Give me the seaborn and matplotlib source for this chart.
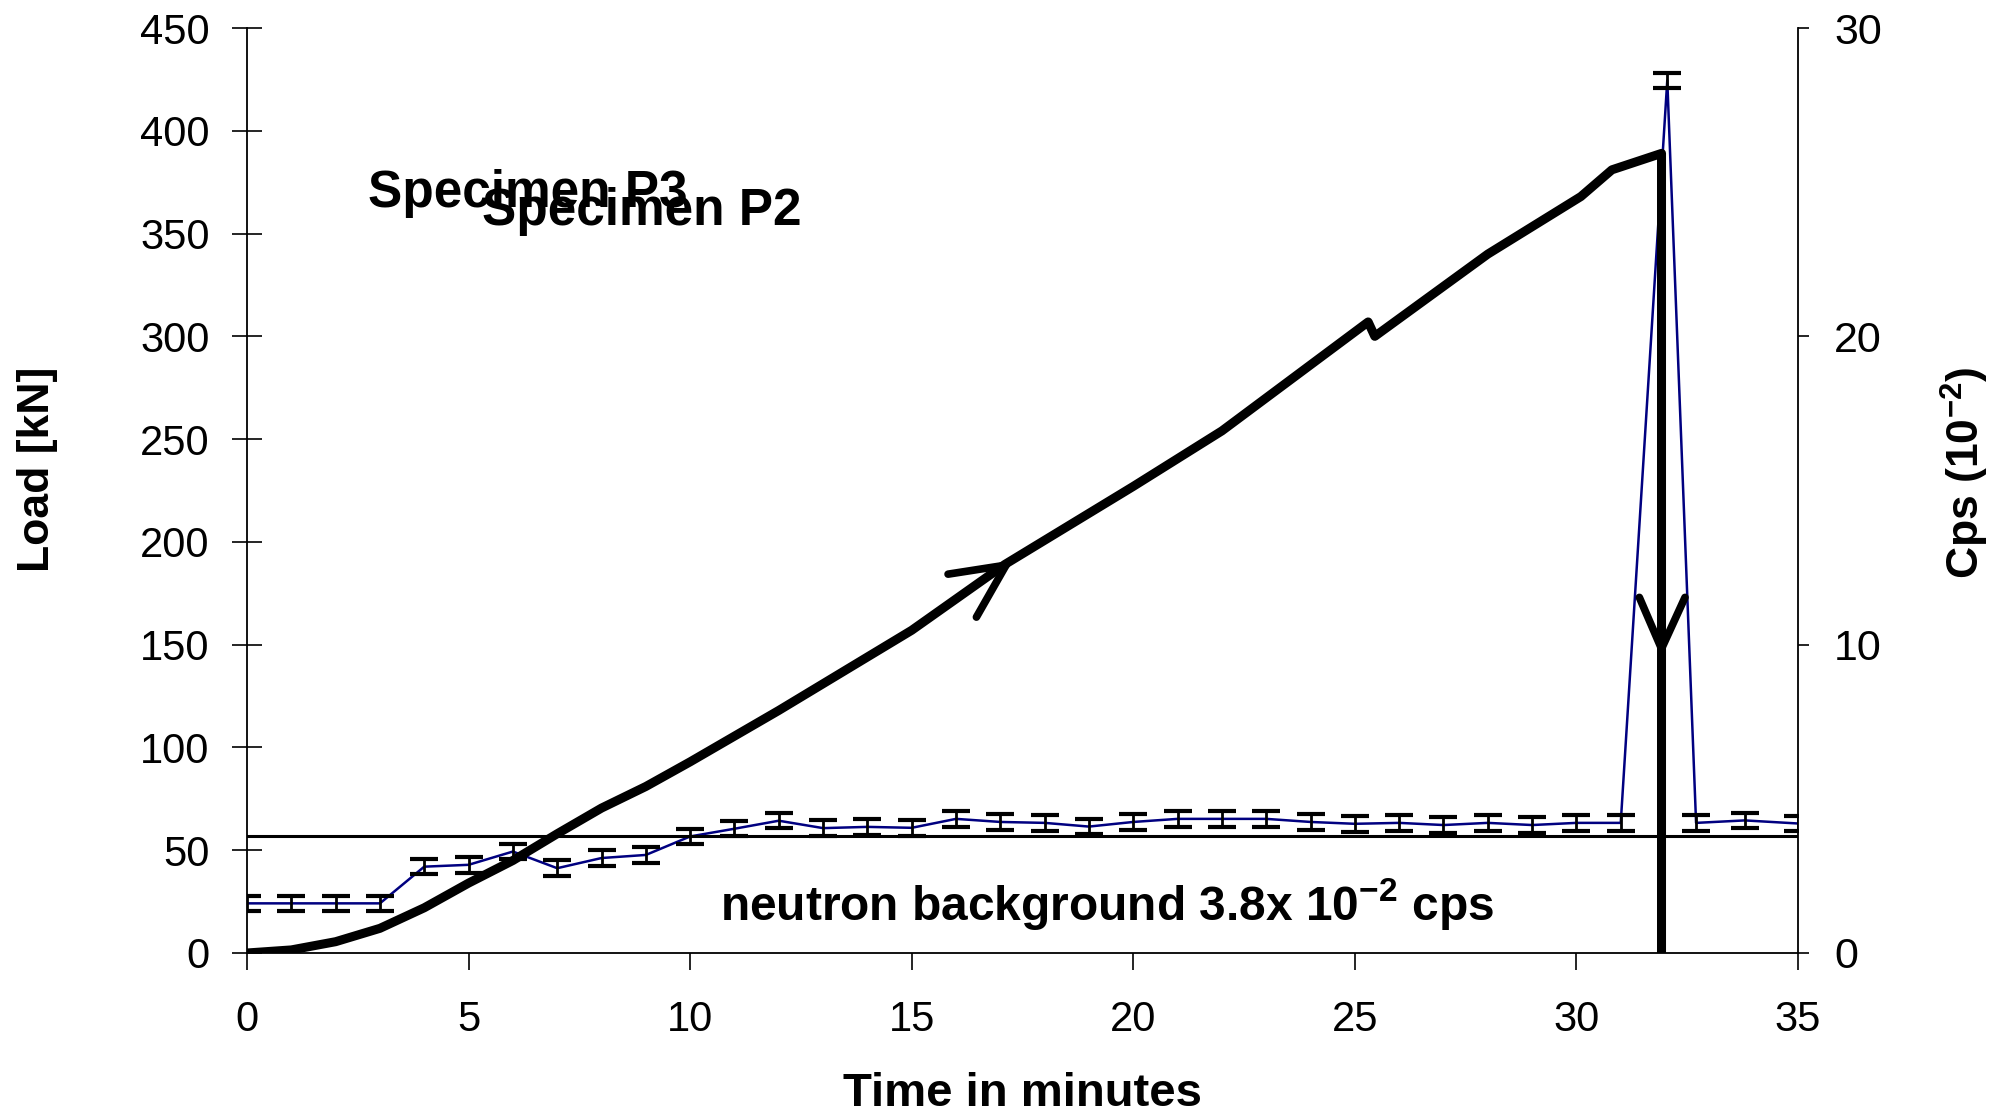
import matplotlib
matplotlib.use("Agg")
import matplotlib.pyplot as plt
import seaborn as sns

# load curve (left axis, kN)
load_t = [0, 1, 2, 3, 4, 5, 6, 7, 8, 9, 10, 12, 14, 15, 17.1, 20, 22, 25.3, 25.45, 28, 30.1, 30.8, 31.92, 31.92]
load_kn = [0, 1.5, 5.5, 12, 22, 34, 45, 58, 70.5, 81, 93, 118, 144, 157, 189, 227, 254, 307, 300, 340, 368, 381, 389, 0]

# neutron counts (right axis, cps x 10^-2)
cps_t = [0, 1, 2, 3, 4, 5, 6, 7, 8, 9, 10, 11, 12, 13, 14, 15, 16, 17, 18, 19, 20,
         21, 22, 23, 24, 25, 26, 27, 28, 29, 30, 31, 32.05, 32.7, 33.8, 35]
cps_val = [1.61, 1.61, 1.61, 1.61, 2.80, 2.86, 3.29, 2.75, 3.08, 3.18, 3.78, 4.03, 4.29, 4.05,
           4.09, 4.06, 4.35, 4.25, 4.22, 4.10, 4.25, 4.35, 4.35, 4.35, 4.25, 4.19, 4.22, 4.15,
           4.22, 4.15, 4.22, 4.22, 28.3, 4.22, 4.30, 4.20]
cps_err = [0.25] * len(cps_t)

background = 3.8
x_ticks = [0, 5, 10, 15, 20, 25, 30, 35]
load_ticks = [0, 50, 100, 150, 200, 250, 300, 350, 400, 450]
cps_ticks = [0, 10, 20, 30]

# hand drawn arrows on the load curve: (tip, arm1, arm2)
up_arrow = [(17.13, 188.7), (15.82, 184.3), (16.46, 163.4)]
down_arrow = [(31.92, 148), (31.42, 173), (32.45, 173)]

sns.set_style("ticks")
plt.rcParams['font.family'] = ['Liberation Sans', 'DejaVu Sans']
plt.rcParams['mathtext.default'] = 'regular'
for key in ('text.color', 'axes.labelcolor', 'xtick.color', 'ytick.color', 'axes.edgecolor'):
    plt.rcParams[key] = 'black'

fig = plt.figure(figsize=(20.14, 11.12), dpi=100)
ax = fig.add_axes([0.12264, 0.14299, 0.77011, 0.83183])
ax2 = ax.twinx()

# right axis: counts with error bars and background level
sns.lineplot(x=cps_t, y=cps_val, ax=ax2, color='#000080', linewidth=1.8,
             sort=False, estimator=None)
ax2.errorbar(cps_t, cps_val, yerr=cps_err, fmt='none', ecolor='black',
             elinewidth=2, capsize=10, capthick=3)
ax2.axhline(background, color='black', linewidth=2.2)

# left axis: load curve on top
ax.set_zorder(ax2.get_zorder() + 1)
ax.patch.set_visible(False)
sns.lineplot(x=load_t, y=load_kn, ax=ax, color='black', linewidth=6.5,
             sort=False, estimator=None)
for tip, a1, a2 in [up_arrow, down_arrow]:
    for arm in (a1, a2):
        ax.plot([arm[0], tip[0]], [arm[1], tip[1]], color='black', linewidth=5.5,
                solid_capstyle='round')

ax.set_xlim(0, 35)
ax.set_ylim(0, 450)
ax2.set_ylim(0, 30)
ax.set_xticks(x_ticks)
ax.set_yticks(load_ticks)
ax2.set_yticks(cps_ticks)

for a in (ax, ax2):
    a.spines['top'].set_visible(False)
    for s in a.spines.values():
        s.set_linewidth(1.3)
ax.spines['right'].set_visible(False)
ax2.spines['left'].set_visible(False)
ax2.spines['bottom'].set_visible(False)

ax.tick_params(axis='y', direction='inout', length=22, width=1.2, labelsize=30, pad=16)
ax.tick_params(axis='x', direction='out', length=12, width=1.2, labelsize=30, pad=22)
ax2.tick_params(axis='y', direction='out', length=8, width=1.2, labelsize=31, pad=18)

ax.set_xlabel('Time in minutes', fontsize=34, fontweight='bold', va='baseline')
ax.xaxis.set_label_coords(0.5, -0.1654)
ax.set_ylabel('Load [kN]', fontsize=32, fontweight='bold', va='center')
ax.yaxis.set_label_coords(-0.1348, 0.523)
ax2.set_ylabel('Cps (10$^{-2}$)', fontsize=32, fontweight='bold', va='center', rotation=90)
ax2.yaxis.set_label_coords(1.1077, 0.519)

ax.text(2.73, 362.8, 'Specimen P3', fontsize=37, fontweight='bold', ha='left', va='baseline')
ax.text(5.30, 354, 'Specimen P2', fontsize=37, fontweight='bold', ha='left', va='baseline')
ax.text(10.68, 16, 'neutron background 3.8x 10$^{-2}$ cps', fontsize=34.5,
        fontweight='bold', ha='left', va='baseline')

fig.savefig('out.png', dpi=100)
